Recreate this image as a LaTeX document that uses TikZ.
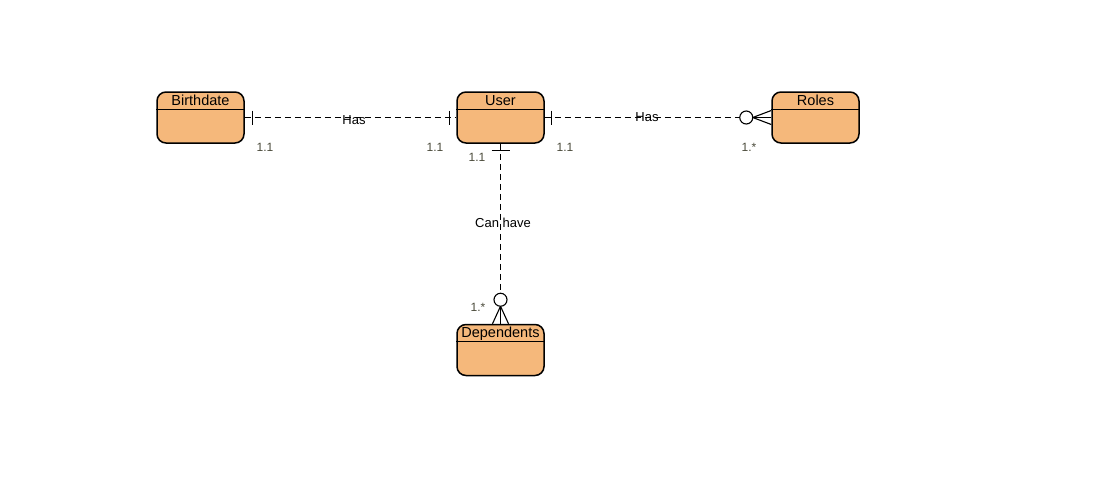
\documentclass[tikz,border=0pt]{standalone}
\usepackage{fontspec}
\setmainfont{Liberation Sans}
\usetikzlibrary{calc}
\definecolor{entfill}{HTML}{F5B87B}
\definecolor{cardcol}{HTML}{4A4A3A}
\tikzset{
  entity/.style={draw=black, line width=1.5pt, fill=entfill, rounded corners=9pt,
    minimum width=87pt, minimum height=51pt, inner sep=0pt},
  conn/.style={line width=1pt, dash pattern=on 6pt off 4pt},
  tickline/.style={line width=1.1pt},
  card/.style={font=\fontsize{12}{13}\selectfont, text=cardcol, inner sep=0pt},
  rel/.style={font=\fontsize{13}{14}\selectfont, inner sep=0pt},
  ttl/.style={font=\fontsize{14.5}{16}\selectfont, inner sep=0pt}
}
\begin{document}
\begin{tikzpicture}[x=1pt,y=-1pt]
\useasboundingbox (0,0) rectangle (1095,485);
% entities
\node[entity] (b) at (200.5,117.5) {};
\node[entity] (u) at (500.5,117.5) {};
\node[entity] (r) at (815.5,117.5) {};
\node[entity] (d) at (500.5,350) {};
\foreach \n/\t in {b/Birthdate,u/User,r/Roles,d/Dependents}{
  \draw[line width=1.2pt] ([yshift=-18pt]\n.north west) -- ([yshift=-18pt]\n.north east);
  \node[ttl] at ([yshift=-9.5pt]\n.north) {\t};
}
% Birthdate - User
\draw[conn] (b.east) -- (u.west);
\draw[tickline] ($(b.east)+(8,-7)$) -- ($(b.east)+(8,7)$);
\draw[tickline] ($(u.west)+(-7,-7)$) -- ($(u.west)+(-7,7)$);
\node[rel] at (354,120) {Has};
\node[card] at (265,147) {1.1};
\node[card] at (435,147) {1.1};
% User - Roles
\coordinate (rc) at ($(r.west)+(-25,0)$);
\draw[conn] (u.east) -- ($(rc)+(-6,0)$);
\draw[tickline] ($(u.east)+(7,-7)$) -- ($(u.east)+(7,7)$);
\draw[tickline, fill=white] (rc) circle (6.5);
\draw[tickline] ($(rc)+(6.5,0)$) -- ($(r.west)+(0,-7)$);
\draw[tickline] ($(rc)+(6.5,0)$) -- ($(r.west)+(0,7)$);
\draw[tickline] ($(rc)+(6.5,0)$) -- (r.west);
\node[rel] at (647,117) {Has};
\node[card] at (565,147) {1.1};
\node[card] at (749,147) {1.*};
% User - Dependents
\coordinate (dc) at ($(d.north)+(0,-24)$);
\draw[conn] (u.south) -- ($(dc)+(0,-6)$);
\draw[tickline] ($(u.south)+(-9,7)$) -- ($(u.south)+(9,7)$);
\draw[tickline, fill=white] (dc) circle (6.5);
\draw[tickline] ($(dc)+(0,6.5)$) -- ($(d.north)+(-8,0)$);
\draw[tickline] ($(dc)+(0,6.5)$) -- ($(d.north)+(8,0)$);
\draw[tickline] ($(dc)+(0,6.5)$) -- (d.north);
\node[rel] at (503,223) {Can have};
\node[card] at (477,157) {1.1};
\node[card] at (478,307) {1.*};
\end{tikzpicture}
\end{document}
